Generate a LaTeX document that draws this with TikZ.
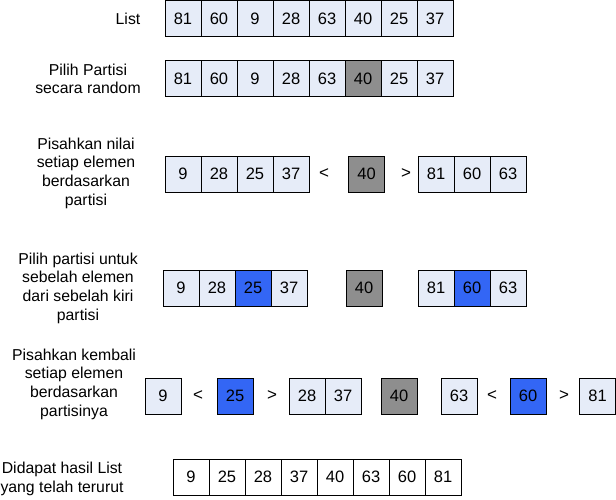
\documentclass[tikz,border=0pt]{standalone}
\usepackage{fontspec}
\setmainfont{Liberation Sans}
\definecolor{cellfill}{HTML}{E6ECF8}
\definecolor{pivgray}{HTML}{8E8E8E}
\definecolor{pivblue}{HTML}{3366F5}
\tikzset{
  cell/.style={draw=black, line width=0.9pt, fill=cellfill, minimum width=36pt, minimum height=36pt, inner sep=0pt, text=black, font=\fontsize{16.5}{18.7}\selectfont},
  gcell/.style={cell, fill=pivgray},
  bcell/.style={cell, fill=pivblue},
  wcell/.style={cell, fill=white},
  lab/.style={align=center, inner sep=0pt},
  sym/.style={inner sep=0pt, font=\fontsize{17}{18.7}\selectfont}
}
\begin{document}
\begin{tikzpicture}[x=1pt,y=-1pt,font=\fontsize{15.8}{18.7}\selectfont]
\useasboundingbox[fill=white] (0,0) rectangle (616,500);
% Row 1
\node[lab] (lab1) at (128,18.5) {List};
\foreach \v [count=\i] in {81,60,9,28,63,40,25,37}
  \node[cell] (ra\i) at ({165+36*(\i-1)+18},18.5) {\v};
% Row 2
\node[lab] (lab2) at (88,79) {Pilih Partisi\\secara random};
\foreach \v [count=\i] in {81,60,9,28,63}
  \node[cell] (rb\i) at ({165+36*(\i-1)+18},78.5) {\v};
\node[gcell] (rb6) at (363,78.5) {40};
\node[cell] (rb7) at (399,78.5) {25};
\node[cell] (rb8) at (435,78.5) {37};
% Row 3
\node[lab] (lab3) at (86,173) {Pisahkan nilai\\setiap elemen\\berdasarkan\\partisi};
\foreach \v [count=\i] in {9,28,25,37}
  \node[cell] (rc\i) at ({165+36*(\i-1)+18},174) {\v};
\node[sym] (rclt) at (324,174) {<};
\node[gcell] (rcp) at (366.5,174) {40};
\node[sym] (rcgt) at (406,174) {>};
\foreach \v [count=\i] in {81,60,63}
  \node[cell] (rd\i) at ({418+36*(\i-1)+18},174) {\v};
% Row 4
\node[lab] (lab4) at (78,288) {Pilih partisi untuk\\sebelah elemen\\dari sebelah kiri\\partisi};
\node[cell] (re1) at (181,288) {9};
\node[cell] (re2) at (217,288) {28};
\node[bcell] (re3) at (253,288) {25};
\node[cell] (re4) at (289,288) {37};
\node[gcell] (rep) at (364,288) {40};
\node[cell] (rf1) at (436,288) {81};
\node[bcell] (rf2) at (472,288) {60};
\node[cell] (rf3) at (508,288) {63};
% Row 5
\node[lab] (lab5) at (74,384) {Pisahkan kembali\\setiap elemen\\berdasarkan\\partisinya};
\node[cell] (rg1) at (163,396) {9};
\node[sym] (rglt) at (198,396) {<};
\node[bcell] (rg2) at (235,396) {25};
\node[sym] (rggt) at (272,396) {>};
\node[cell] (rg3) at (307,396) {28};
\node[cell] (rg4) at (343,396) {37};
\node[gcell] (rgp) at (399,396) {40};
\node[cell] (rh1) at (459,396) {63};
\node[sym] (rhlt) at (492,396) {<};
\node[bcell] (rh2) at (528,396) {60};
\node[sym] (rhgt) at (564,396) {>};
\node[cell] (rh3) at (597.5,396) {81};
% Row 6
\node[lab] (lab6) at (62,479) {Didapat hasil List\\yang telah terurut};
\foreach \v [count=\i] in {9,25,28,37,40,63,60,81}
  \node[wcell] (ri\i) at ({173+36*(\i-1)+18},477) {\v};
\end{tikzpicture}
\end{document}
